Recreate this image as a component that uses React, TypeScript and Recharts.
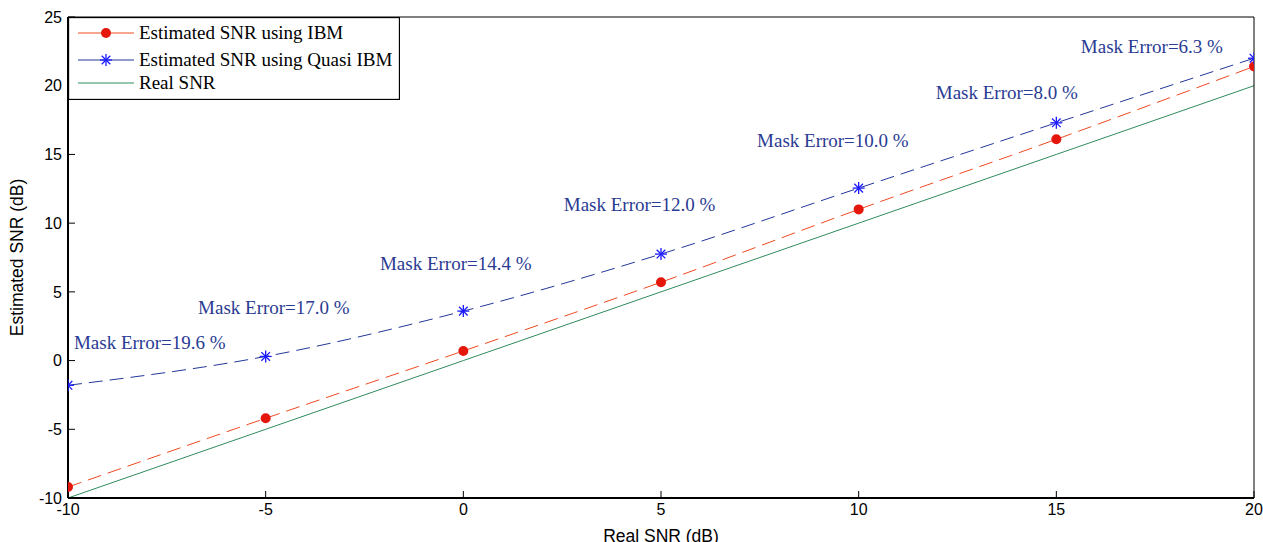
import React from "react";
import {
  LineChart,
  Line,
  XAxis,
  YAxis,
  ReferenceDot,
} from "recharts";

// Real SNR in dB (x axis)
const realSnr = [-10, -5, 0, 5, 10, 15, 20];
const ibmSnr = [-9.2, -4.2, 0.7, 5.7, 11.0, 16.1, 21.4];
const quasiSnr = [-1.8, 0.3, 3.6, 7.75, 12.55, 17.3, 22.0];

const xTicks = [-10, -5, 0, 5, 10, 15, 20];
const yTicks = [-10, -5, 0, 5, 10, 15, 20, 25];

// mask error annotations (text anchor in data units)
const maskErrors = ["19.6", "17.0", "14.4", "12.0", "10.0", "8.0", "6.3"];
const maskLabelX = [-9.85, -6.71, -2.11, 2.54, 7.43, 11.95, 15.62];
const maskLabelY = [1.3, 3.83, 7.03, 11.3, 16.0, 19.5, 22.8];

const data = realSnr.map((x, i) => ({
  x,
  ibm: ibmSnr[i],
  quasi: quasiSnr[i],
  real: x,
}));

const RED_LINE = "#ef4a22";
const RED_DOT = "#e5170c";
const BLUE_LINE = "#23389a";
const BLUE_MARK = "#1a1aff";
const GREEN = "#2f8c5c";
const TEXT_BLUE = "#2a3b93";

const SANS = "'Liberation Sans', Arial, sans-serif";
const SERIF = "'Liberation Serif', 'Times New Roman', serif";

function StarDot(props: any) {
  const { cx, cy } = props;
  if (cx == null || cy == null) return null;
  const r = 6;
  const d = r * 0.72;
  return (
    <g stroke={BLUE_MARK} strokeWidth={1.3}>
      <line x1={cx - r} y1={cy} x2={cx + r} y2={cy} />
      <line x1={cx} y1={cy - r} x2={cx} y2={cy + r} />
      <line x1={cx - d} y1={cy - d} x2={cx + d} y2={cy + d} />
      <line x1={cx - d} y1={cy + d} x2={cx + d} y2={cy - d} />
    </g>
  );
}

function MaskLabel(text: string) {
  return (props: any) => (
    <text
      x={props.cx}
      y={props.cy}
      dy={6}
      fill={TEXT_BLUE}
      fontFamily={SERIF}
      fontSize={19}
      textAnchor="start"
    >
      {`Mask Error=${text} %`}
    </text>
  );
}

function LegendBox() {
  const rows = [
    { label: "Estimated SNR using IBM", kind: "ibm" },
    { label: "Estimated SNR using Quasi IBM", kind: "quasi" },
    { label: "Real SNR", kind: "real" },
  ];
  const rowY = [16, 43, 66];
  return (
    <svg
      width={332}
      height={83}
      style={{ position: "absolute", left: 68, top: 17 }}
    >
      <rect x={0.5} y={0.5} width={331} height={82} fill="#fff" stroke="#000" strokeWidth={1.3} />
      {rows.map((r, i) => {
        const y = rowY[i];
        const color = r.kind === "ibm" ? RED_LINE : r.kind === "quasi" ? BLUE_LINE : GREEN;
        return (
          <g key={r.kind}>
            <line x1={10} y1={y} x2={66} y2={y} stroke={color} strokeWidth={1} />
            {r.kind === "ibm" && <circle cx={38} cy={y} r={5} fill={RED_DOT} />}
            {r.kind === "quasi" && <StarDot cx={38} cy={y} />}
            <text x={71} y={y} dy={6} fontFamily={SERIF} fontSize={19} fill="#000">
              {r.label}
            </text>
          </g>
        );
      })}
    </svg>
  );
}

export default function App() {
  const tickStyle = { fontSize: 16, fill: "#000", fontFamily: SANS };
  return (
    <div style={{ position: "absolute", left: 0, top: 0, width: 1263, height: 542, background: "#fff" }}>
      <LineChart
        width={1263}
        height={542}
        data={data}
        margin={{ top: 16, right: 8, left: 0, bottom: 0 }}
      >
        <XAxis
          dataKey="x"
          type="number"
          domain={[-10, 20]}
          ticks={xTicks}
          interval={0}
          tick={tickStyle}
          tickSize={-7}
          tickMargin={13}
          height={44}
          axisLine={{ stroke: "#000", strokeWidth: 2 }}
          tickLine={{ stroke: "#000" }}
          label={{
            value: "Real SNR (dB)",
            position: "insideBottom",
            offset: 0,
            style: { fontSize: 17.5, fill: "#000", fontFamily: SANS },
          }}
          allowDataOverflow
        />
        <XAxis
          xAxisId="top"
          orientation="top"
          dataKey="x"
          type="number"
          domain={[-10, 20]}
          ticks={xTicks}
          interval={0}
          tick={false}
          tickSize={-7}
          height={1}
          axisLine={{ stroke: "#000", strokeWidth: 1 }}
          tickLine={{ stroke: "#000" }}
        />
        <YAxis
          type="number"
          domain={[-10, 25]}
          ticks={yTicks}
          interval={0}
          tick={tickStyle}
          tickSize={-7}
          tickMargin={13}
          width={68}
          axisLine={{ stroke: "#000", strokeWidth: 2 }}
          tickLine={{ stroke: "#000" }}
          label={{
            value: "Estimated SNR (dB)",
            angle: -90,
            position: "insideLeft",
            offset: 17,
            style: { fontSize: 17.5, fill: "#000", fontFamily: SANS, textAnchor: "middle" },
          }}
          allowDataOverflow
        />
        <YAxis
          yAxisId="right"
          orientation="right"
          type="number"
          domain={[-10, 25]}
          ticks={yTicks}
          interval={0}
          tick={false}
          tickSize={-7}
          width={1}
          axisLine={{ stroke: "#000", strokeWidth: 1 }}
          tickLine={{ stroke: "#000" }}
        />
        <Line
          dataKey="ibm"
          type="monotone"
          stroke={RED_LINE}
          strokeWidth={1}
          strokeDasharray="14 7"
          dot={{ r: 5, fill: RED_DOT, stroke: RED_DOT, strokeWidth: 0 }}
          activeDot={false}
          isAnimationActive={false}
        />
        <Line
          dataKey="quasi"
          type="monotone"
          stroke={BLUE_LINE}
          strokeWidth={1}
          strokeDasharray="14 7"
          dot={<StarDot />}
          activeDot={false}
          isAnimationActive={false}
        />
        <Line
          dataKey="real"
          type="linear"
          stroke={GREEN}
          strokeWidth={1}
          dot={false}
          activeDot={false}
          isAnimationActive={false}
        />
        {maskErrors.map((m, i) => (
          <ReferenceDot
            key={m}
            x={maskLabelX[i]}
            y={maskLabelY[i]}
            r={0}
            shape={MaskLabel(m)}
          />
        ))}
      </LineChart>
      <LegendBox />
    </div>
  );
}
